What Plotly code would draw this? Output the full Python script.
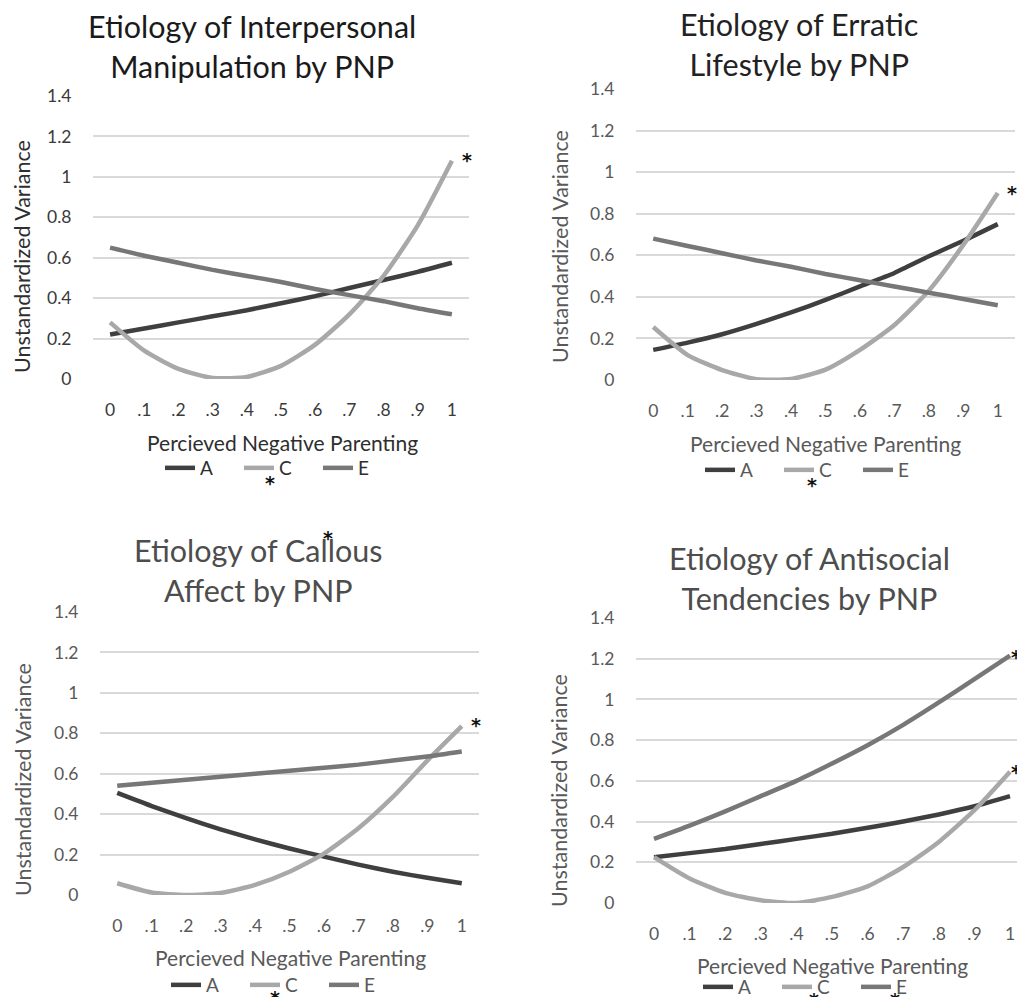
import plotly.graph_objects as go

W, H = 1025, 997
OFF = 8  # page body margin of the browser
FONT = "Lato"

# ---------------- data ----------------
x_vals = [0, 0.1, 0.2, 0.3, 0.4, 0.5, 0.6, 0.7, 0.8, 0.9, 1.0]
x_tick_labels = ["0", ".1", ".2", ".3", ".4", ".5", ".6", ".7", ".8", ".9", "1"]
y_tick_vals = [0, 0.2, 0.4, 0.6, 0.8, 1.0, 1.2, 1.4]
y_tick_labels = ["0", "0.2", "0.4", "0.6", "0.8", "1", "1.2", "1.4"]
series_names = ["A", "C", "E"]

titles = [
    "Etiology of Interpersonal<br>Manipulation by PNP",
    "Etiology of Erratic<br>Lifestyle by PNP",
    "Etiology of Callous<br>Affect by PNP",
    "Etiology of Antisocial<br>Tendencies by PNP",
]
x_title = "Percieved Negative Parenting"
y_title = "Unstandardized Variance"

# Interpersonal Manipulation
im_A = [0.22, 0.25, 0.28, 0.31, 0.34, 0.375, 0.41, 0.45, 0.49, 0.53, 0.575]
im_C = [0.28, 0.14, 0.05, 0.005, 0.01, 0.065, 0.17, 0.32, 0.51, 0.76, 1.08]
im_E = [0.65, 0.61, 0.575, 0.54, 0.51, 0.48, 0.445, 0.415, 0.385, 0.35, 0.32]

# Erratic Lifestyle
el_A = [0.145, 0.18, 0.22, 0.27, 0.325, 0.385, 0.45, 0.515, 0.595, 0.67, 0.75]
el_C = [0.255, 0.12, 0.048, 0.004, 0.005, 0.05, 0.145, 0.265, 0.43, 0.65, 0.90]
el_E = [0.68, 0.645, 0.61, 0.575, 0.545, 0.51, 0.48, 0.45, 0.42, 0.39, 0.36]

# Callous Affect
ca_A = [0.505, 0.44, 0.38, 0.325, 0.275, 0.23, 0.19, 0.15, 0.115, 0.085, 0.058]
ca_C = [0.058, 0.012, 0.0, 0.01, 0.05, 0.115, 0.205, 0.33, 0.485, 0.665, 0.835]
ca_E = [0.54, 0.555, 0.57, 0.585, 0.6, 0.615, 0.63, 0.645, 0.665, 0.685, 0.71]

# Antisocial Tendencies
at_A = [0.225, 0.245, 0.265, 0.29, 0.315, 0.34, 0.37, 0.4, 0.435, 0.475, 0.525]
at_C = [0.225, 0.12, 0.05, 0.013, 0.0, 0.03, 0.082, 0.177, 0.30, 0.456, 0.645]
at_E = [0.315, 0.38, 0.45, 0.525, 0.6, 0.685, 0.775, 0.875, 0.985, 1.1, 1.215]

panels = [(im_A, im_C, im_E), (el_A, el_C, el_E), (ca_A, ca_C, ca_E), (at_A, at_C, at_E)]

# ---------------- styling / layout ----------------
colors = {"A": "#3f3f3f", "C": "#a8a8a8", "E": "#777777"}
title_colors = ["#1a1a1a", "#222222", "#4d4d4d", "#4d4d4d"]
text_colors = ["#2e2e2e", "#595959", "#595959", "#595959"]
tick_colors = ["#3a3a3a", "#595959", "#595959", "#595959"]

# pixel boxes of plot areas (page pixels): left, right, top, bottom, x range
boxes = [
    (93, 469, 96, 379, [-0.05, 1.05]),
    (636, 1015, 89, 380, [-0.05, 1.05]),
    (100, 479, 612, 895, [-0.05, 1.05]),
    (636, 1033, 618, 903, [-0.0506, 1.0646]),
]
title_pos = [(252, 46), (799, 44), (258, 570), (809, 578)]
xtitle_pos = [(282, 442), (825, 443), (290, 957), (832, 965)]
ytitle_pos = [(22, 257), (560, 247), (23, 780), (559, 791)]
legend_pos = [(160, 468), (700, 470), (166, 985), (698, 987)]
asterisks = [(467, 155), (270, 478), (1012, 188), (812, 480),
             (476, 720), (328, 533), (275, 993),
             (1016, 652), (1016, 767), (814, 995), (895, 995)]


def px(x):
    return (x - OFF) / W


def py(y):
    return 1 - (y - OFF) / H


fig = go.Figure()
layout = dict(
    width=W, height=H,
    margin=dict(l=0, r=0, t=0, b=0, pad=0, autoexpand=False),
    paper_bgcolor="white", plot_bgcolor="white",
    font=dict(family=FONT, color="#595959"),
    annotations=[],
)

for i, (data, box) in enumerate(zip(panels, boxes)):
    n = "" if i == 0 else str(i + 1)
    leg = "legend" if i == 0 else f"legend{i + 1}"
    for name, ys in zip(series_names, data):
        fig.add_trace(go.Scatter(
            x=x_vals, y=ys, mode="lines", name=name,
            line=dict(color=colors[name], width=4.5, shape="spline", smoothing=0.6),
            xaxis="x" + n, yaxis="y" + n, legend=leg, showlegend=True,
        ))
    l, r, t, b, xr = box
    layout["xaxis" + n] = dict(
        domain=[px(l), min(px(r), 1.0)], range=xr, anchor="y" + n,
        tickvals=x_vals, ticktext=x_tick_labels,
        showgrid=False, zeroline=False, showline=False,
        ticks="outside", ticklen=15, tickcolor="rgba(0,0,0,0)",
        tickfont=dict(size=17.5, color=tick_colors[i], family=FONT),
        fixedrange=True, automargin=False,
    )
    layout["yaxis" + n] = dict(
        domain=[py(b), py(t)], range=[0, 1.4], anchor="x" + n,
        tickvals=y_tick_vals, ticktext=y_tick_labels,
        showgrid=True, gridcolor="#d9d9d9", gridwidth=1.5,
        zeroline=False, showline=False,
        ticks="outside", ticklen=17, tickcolor="rgba(0,0,0,0)",
        tickfont=dict(size=17.5, color=tick_colors[i], family=FONT),
        fixedrange=True, automargin=False,
    )
    lx, ly = legend_pos[i]
    layout[leg] = dict(
        orientation="h", x=px(lx), y=py(ly), xanchor="left", yanchor="middle",
        bgcolor="rgba(0,0,0,0)", font=dict(size=19, color=text_colors[i], family=FONT),
        itemclick=False, itemdoubleclick=False, tracegroupgap=0,
        entrywidth=34, entrywidthmode="pixels",
    )
    tx, ty = title_pos[i]
    layout["annotations"].append(dict(
        text=titles[i], x=px(tx), y=py(ty), xref="paper", yref="paper",
        showarrow=False, xanchor="center", yanchor="middle",
        font=dict(size=30.5, color=title_colors[i], family=FONT),
    ))
    ax, ay = xtitle_pos[i]
    layout["annotations"].append(dict(
        text=x_title, x=px(ax), y=py(ay), xref="paper", yref="paper",
        showarrow=False, xanchor="center", yanchor="middle",
        font=dict(size=21, color=text_colors[i], family=FONT),
    ))
    bx, by = ytitle_pos[i]
    layout["annotations"].append(dict(
        text=y_title, x=px(bx), y=py(by), xref="paper", yref="paper",
        showarrow=False, xanchor="center", yanchor="middle", textangle=-90,
        font=dict(size=21.5, color=text_colors[i], family=FONT),
    ))

for (sx, sy) in asterisks:
    layout["annotations"].append(dict(
        text="<b>*</b>", x=px(sx), y=py(sy + 5), xref="paper", yref="paper",
        showarrow=False, xanchor="center", yanchor="middle",
        font=dict(size=19, color="#111111", family="DejaVu Sans"),
    ))

fig.update_layout(**layout)
fig.write_html("out.html")
